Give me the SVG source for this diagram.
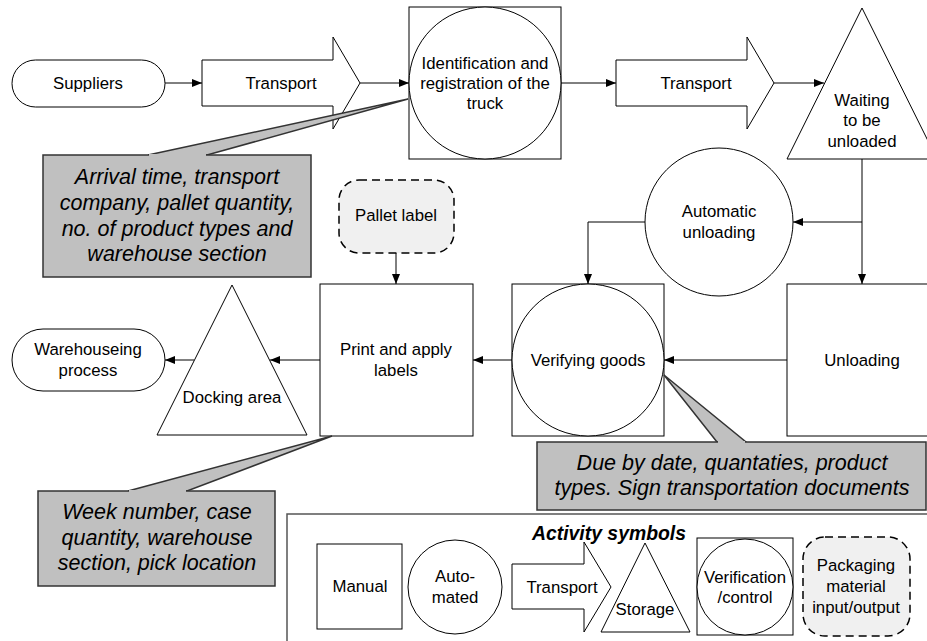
<svg xmlns="http://www.w3.org/2000/svg" width="927" height="641" viewBox="0 0 927 641">
<defs>
<marker id="ah" markerWidth="10" markerHeight="8" refX="10" refY="4" orient="auto" markerUnits="userSpaceOnUse">
<path d="M0,0 L10,4 L0,8 Z" fill="#000"/>
</marker>
<style>
.s{fill:#fff;stroke:#000;stroke-width:1}
.d{fill:#f0f0f0;stroke:#000;stroke-width:1.5;stroke-dasharray:8,5}
.c{fill:#c0c0c0;stroke:#333;stroke-width:1.5}
.t{font-family:"Liberation Sans",Arial,sans-serif;font-size:16.8px;text-anchor:middle;fill:#000}
.i{font-family:"Liberation Sans",Arial,sans-serif;font-size:21.5px;font-style:italic;text-anchor:middle;fill:#000}
.h{font-family:"Liberation Sans",Arial,sans-serif;font-size:19.4px;font-style:italic;font-weight:bold;text-anchor:middle;fill:#000}
.l{fill:none;stroke:#000;stroke-width:1}
</style>
</defs>
<rect width="927" height="641" fill="#fff"/>

<g id="connectors">
<line class="l" x1="165" y1="83" x2="202" y2="83" marker-end="url(#ah)"/>
<line class="l" x1="360" y1="83" x2="409" y2="83" marker-end="url(#ah)"/>
<line class="l" x1="561" y1="83" x2="616" y2="83" marker-end="url(#ah)"/>
<line class="l" x1="774" y1="83" x2="824" y2="83" marker-end="url(#ah)"/>
<line class="l" x1="862" y1="159" x2="862" y2="284" marker-end="url(#ah)"/>
<line class="l" x1="862" y1="222" x2="793" y2="222" marker-end="url(#ah)"/>
<polyline class="l" points="645,222 588,222 588,284" marker-end="url(#ah)"/>
<line class="l" x1="396" y1="253" x2="396" y2="284" marker-end="url(#ah)"/>
<line class="l" x1="787" y1="360" x2="664" y2="360" marker-end="url(#ah)"/>
<line class="l" x1="512" y1="360" x2="473" y2="360" marker-end="url(#ah)"/>
<line class="l" x1="320" y1="360" x2="270" y2="360" marker-end="url(#ah)"/>
<line class="l" x1="194" y1="360" x2="165" y2="360" marker-end="url(#ah)"/>
</g>

<g id="suppliers">
<rect class="s" x="12" y="60" width="153" height="47" rx="23.5"/>
<text class="t" x="88" y="89">Suppliers</text>
</g>

<g id="transport1">
<polygon class="s" points="202,60 333,60 333,37 360,83 333,129 333,106 202,106"/>
<text class="t" x="281" y="89">Transport</text>
</g>

<g id="identification">
<rect class="s" x="409" y="7" width="152" height="152"/>
<circle class="s" cx="485" cy="83" r="76"/>
<text class="t" x="485" y="69">Identification and</text>
<text class="t" x="485" y="89">registration of the</text>
<text class="t" x="485" y="109">truck</text>
</g>

<g id="transport2">
<polygon class="s" points="616,60 747,60 747,37 774,83 747,129 747,106 616,106"/>
<text class="t" x="696" y="89">Transport</text>
</g>

<g id="waiting">
<polygon class="s" points="862,8 937,159 787,159"/>
<text class="t" x="862" y="106">Waiting</text>
<text class="t" x="862" y="126">to be</text>
<text class="t" x="862" y="147">unloaded</text>
</g>

<g id="automatic">
<circle class="s" cx="719" cy="222" r="74"/>
<text class="t" x="719" y="217">Automatic</text>
<text class="t" x="719" y="238">unloading</text>
</g>

<g id="callout1">
<polygon class="c" points="148,155 408,99 207,155"/>
<rect class="c" x="43" y="155" width="268" height="122"/>
<line x1="149" y1="155" x2="206" y2="155" stroke="#c0c0c0" stroke-width="2"/>
<text class="i" x="177" y="184">Arrival time, transport</text>
<text class="i" x="177" y="210">company, pallet quantity,</text>
<text class="i" x="177" y="236">no. of product types and</text>
<text class="i" x="177" y="261">warehouse section</text>
</g>

<g id="pallet-label">
<rect class="d" x="339" y="180" width="115" height="73" rx="20"/>
<text class="t" x="396" y="221">Pallet label</text>
</g>

<g id="print-labels">
<rect class="s" x="320" y="284" width="153" height="152"/>
<text class="t" x="396" y="355">Print and apply</text>
<text class="t" x="396" y="376">labels</text>
</g>

<g id="verifying">
<rect class="s" x="512" y="284" width="152" height="152"/>
<circle class="s" cx="588" cy="360" r="76"/>
<text class="t" x="588" y="366">Verifying goods</text>
</g>

<g id="unloading">
<rect class="s" x="787" y="284" width="152" height="152"/>
<text class="t" x="862" y="366">Unloading</text>
</g>

<g id="docking">
<polygon class="s" points="232,285 307,435 157,435"/>
<text class="t" x="232" y="403">Docking area</text>
</g>

<g id="warehousing">
<rect class="s" x="12" y="329" width="153" height="62" rx="31"/>
<text class="t" x="88" y="355">Warehouseing</text>
<text class="t" x="88" y="376">process</text>
</g>

<g id="callout2">
<polygon class="c" points="128,491 332,436 187,491"/>
<rect class="c" x="38" y="491" width="237" height="95"/>
<line x1="129" y1="491" x2="186" y2="491" stroke="#c0c0c0" stroke-width="2"/>
<text class="i" x="157" y="519">Week number, case</text>
<text class="i" x="157" y="545">quantity, warehouse</text>
<text class="i" x="157" y="570">section, pick location</text>
</g>

<g id="callout3">
<polygon class="c" points="717,442 664,375 746,442"/>
<rect class="c" x="537" y="442" width="389" height="68"/>
<line x1="718" y1="442" x2="745" y2="442" stroke="#c0c0c0" stroke-width="2"/>
<text class="i" x="732" y="470">Due by date, quantaties, product</text>
<text class="i" x="732" y="495">types. Sign transportation documents</text>
</g>

<g id="legend">
<rect x="287" y="514" width="700" height="200" fill="#fff" stroke="#555" stroke-width="1.5"/>
<text class="h" x="609" y="540">Activity symbols</text>
<rect class="s" x="317" y="544" width="85" height="85"/>
<text class="t" x="360" y="592">Manual</text>
<circle class="s" cx="455" cy="587" r="47"/>
<text class="t" x="455" y="582">Auto-</text>
<text class="t" x="455" y="603">mated</text>
<polygon class="s" points="512,564 584,564 584,542 611,587 584,632 584,609 512,609"/>
<text class="t" x="562" y="593">Transport</text>
<polygon class="s" points="645,543 690,632 601,632"/>
<text class="t" x="645" y="615">Storage</text>
<rect class="s" x="697" y="538" width="96" height="97"/>
<circle class="s" cx="745" cy="587" r="48"/>
<text class="t" x="745" y="583">Verification</text>
<text class="t" x="745" y="603">/control</text>
<rect class="d" x="803" y="537" width="107" height="99" rx="22"/>
<text class="t" x="856" y="571">Packaging</text>
<text class="t" x="856" y="592">material</text>
<text class="t" x="856" y="613">input/output</text>
</g>
</svg>
